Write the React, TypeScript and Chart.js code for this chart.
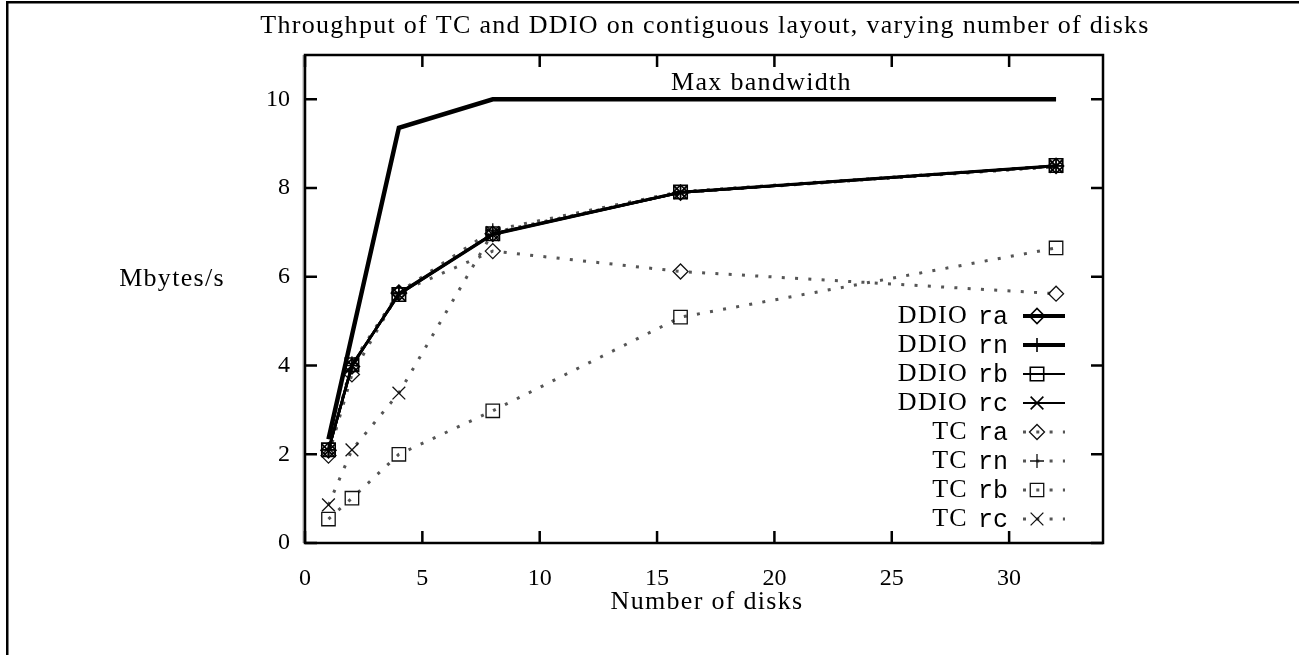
import React, { useEffect, useRef } from 'react';
import { Chart, registerables } from 'chart.js';
import { drawPoint } from 'chart.js/helpers';

Chart.register(...registerables);

// ---- data ----
const disks = [1, 2, 4, 8, 16, 32];
const maxBandwidth = [2.34, 4.68, 9.36, 10, 10, 10];
const ddioRa = [2.09, 3.98, 5.63, 6.97, 7.9, 8.5];
const ddioRn = [2.1, 4.0, 5.62, 6.96, 7.9, 8.5];
const ddioRb = [2.1, 4.02, 5.6, 6.97, 7.91, 8.51];
const ddioRc = [2.08, 4.0, 5.6, 6.95, 7.9, 8.5];
const tcRa = [1.97, 3.8, 5.65, 6.58, 6.12, 5.62];
const tcRn = [2.1, 4.05, 5.65, 7.05, 7.92, 8.5];
const tcRb = [0.54, 1.01, 2.0, 2.98, 5.09, 6.65];
const tcRc = [0.86, 2.1, 3.38, 7.0, 7.9, 8.48];
const xTicks = [0, 5, 10, 15, 20, 25, 30];
const yTicks = [0, 2, 4, 6, 8, 10];

const titleText = 'Throughput of TC and DDIO on contiguous layout, varying number of disks';
const xTitle = 'Number of disks';
const yTitle = 'Mbytes/s';
const maxLabel = 'Max bandwidth';

const SERIF = '"Liberation Serif", "DejaVu Serif", serif';
const MONO = '"Liberation Mono", "DejaVu Sans Mono", monospace';

const pts = (ys: number[]) => disks.map((x, i) => ({ x, y: ys[i] }));

const TC_DASH = [3, 10.3];

function mkDDIO(label: string, ys: number[], style: string, r: number, legendWidth: number) {
  return {
    label,
    data: pts(ys),
    borderColor: '#000',
    borderWidth: 2.5,
    pointStyle: style,
    pointRadius: r,
    pointBorderColor: '#000',
    pointBorderWidth: 1.6,
    pointBackgroundColor: 'rgba(0,0,0,0)',
    showLegendLine: legendWidth,
    tension: 0,
  };
}
function mkTC(label: string, ys: number[], style: string, r: number) {
  return {
    label,
    data: pts(ys),
    borderColor: '#555',
    borderWidth: 3,
    borderDash: TC_DASH,
    pointStyle: style,
    pointRadius: r,
    pointBorderColor: '#111',
    pointBorderWidth: 1.3,
    pointBackgroundColor: 'rgba(0,0,0,0)',
    showLegendLine: 3,
    tension: 0,
  };
}

const decorPlugin = {
  id: 'gnuplotDecor',
  afterDraw(chart: any) {
    const { ctx, chartArea } = chart;
    const xs = chart.scales.x;
    const ys = chart.scales.y;
    const { left, right, top, bottom } = chartArea;
    ctx.save();

    // page frame (top + left)
    ctx.fillStyle = '#000';
    ctx.fillRect(6, 1, 1293, 2.5);
    ctx.fillRect(6, 1, 2.5, 654);

    // plot box
    ctx.strokeStyle = '#000';
    ctx.lineWidth = 2.5;
    ctx.strokeRect(left, top, right - left, bottom - top);
    ctx.strokeStyle = '#777';
    ctx.lineWidth = 1;
    ctx.beginPath();
    ctx.moveTo(left - 1.8, top);
    ctx.lineTo(left - 1.8, bottom);
    ctx.stroke();

    // inward ticks on all four sides
    ctx.strokeStyle = '#000';
    ctx.lineWidth = 2.5;
    const TL = 12;
    ctx.beginPath();
    xTicks.forEach((v) => {
      const px = xs.getPixelForValue(v);
      ctx.moveTo(px, bottom);
      ctx.lineTo(px, bottom - TL);
      ctx.moveTo(px, top);
      ctx.lineTo(px, top + TL);
    });
    yTicks.forEach((v) => {
      const py = ys.getPixelForValue(v);
      ctx.moveTo(left, py);
      ctx.lineTo(left + TL, py);
      ctx.moveTo(right, py);
      ctx.lineTo(right - TL, py);
    });
    ctx.stroke();

    // texts
    ctx.fillStyle = '#000';
    ctx.textBaseline = 'middle';
    ctx.font = `26px ${SERIF}`;
    (ctx as any).letterSpacing = '1.3px';
    ctx.textAlign = 'center';
    ctx.fillText(titleText, (left + right) / 2 + 1, 26);
    ctx.fillText(xTitle, (left + right) / 2 + 3, 602);
    ctx.fillText(yTitle, 172, 279);
    ctx.fillText(maxLabel, xs.getPixelForValue(19.45), ys.getPixelForValue(10.37));

    // legend
    const lx0 = 1023;
    const lx1 = 1065;
    const mx = 1037;
    const textRight = 1008;
    let ly = 316;
    chart.data.datasets.forEach((ds: any) => {
      if (!ds.showLegendLine) return;
      const parts = ds.label.split(' ');
      const code = parts.pop();
      const name = parts.join(' ');
      ctx.fillStyle = '#000';
      ctx.textAlign = 'right';
      ctx.font = `25px ${MONO}`;
      (ctx as any).letterSpacing = '0px';
      ctx.fillText(code, textRight, ly + 1);
      const cw = ctx.measureText(code).width;
      ctx.font = `26px ${SERIF}`;
      (ctx as any).letterSpacing = '1.3px';
      ctx.fillText(name, textRight - cw - 10, ly);

      ctx.strokeStyle = ds.borderDash ? ds.borderColor : '#000';
      ctx.lineWidth = ds.showLegendLine;
      ctx.setLineDash(ds.borderDash || []);
      ctx.beginPath();
      ctx.moveTo(lx0, ly);
      ctx.lineTo(lx1, ly);
      ctx.stroke();
      ctx.setLineDash([]);
      ctx.strokeStyle = ds.pointBorderColor;
      ctx.fillStyle = 'rgba(0,0,0,0)';
      ctx.lineWidth = ds.pointBorderWidth;
      drawPoint(ctx, { pointStyle: ds.pointStyle, radius: ds.pointRadius, rotation: 0, borderWidth: ds.pointBorderWidth }, mx, ly);
      ly += 29;
    });
    ctx.restore();
  },
};

export default function App() {
  const ref = useRef<HTMLCanvasElement | null>(null);
  useEffect(() => {
    if (!ref.current) return;
    const chart = new Chart(ref.current, {
      type: 'line',
      data: {
        datasets: [
          {
            label: maxLabel,
            data: pts(maxBandwidth),
            borderColor: '#000',
            borderWidth: 4.5,
            pointRadius: 0,
            tension: 0,
          } as any,
          mkDDIO('DDIO ra', ddioRa, 'rectRot', 7.5, 4),
          mkDDIO('DDIO rn', ddioRn, 'cross', 7, 4),
          mkDDIO('DDIO rb', ddioRb, 'rect', 9.5, 2),
          mkDDIO('DDIO rc', ddioRc, 'crossRot', 9, 2),
          mkTC('TC ra', tcRa, 'rectRot', 7.5),
          mkTC('TC rn', tcRn, 'cross', 7),
          mkTC('TC rb', tcRb, 'rect', 9.5),
          mkTC('TC rc', tcRc, 'crossRot', 9),
        ],
      },
      options: {
        animation: false,
        responsive: true,
        maintainAspectRatio: false,
        devicePixelRatio: 1,
        layout: { padding: { left: 0, top: 55, right: 196, bottom: 0 } },
        plugins: {
          legend: { display: false },
          title: { display: false },
          tooltip: { enabled: false },
        },
        scales: {
          x: {
            type: 'linear',
            min: 0,
            max: 34,
            afterBuildTicks: (s: any) => {
              s.ticks = xTicks.map((v) => ({ value: v }));
            },
            afterFit: (s: any) => {
              s.height = 112;
            },
            grid: { display: false, drawTicks: false },
            border: { display: false },
            ticks: {
              padding: 21,
              color: '#000',
              font: { family: SERIF, size: 24 },
              maxRotation: 0,
              autoSkip: false,
            },
          },
          y: {
            type: 'linear',
            min: 0,
            max: 11,
            afterBuildTicks: (s: any) => {
              s.ticks = yTicks.map((v) => ({ value: v }));
            },
            afterFit: (s: any) => {
              s.width = 305;
            },
            grid: { display: false, drawTicks: false },
            border: { display: false },
            ticks: {
              padding: 15,
              color: '#000',
              font: { family: SERIF, size: 24 },
              autoSkip: false,
            },
          },
        },
      } as any,
      plugins: [decorPlugin],
    });
    return () => chart.destroy();
  }, []);
  return (
    <div style={{ position: 'fixed', left: 0, top: 0, width: 1299, height: 655, background: '#fff' }}>
      <canvas ref={ref} />
    </div>
  );
}
